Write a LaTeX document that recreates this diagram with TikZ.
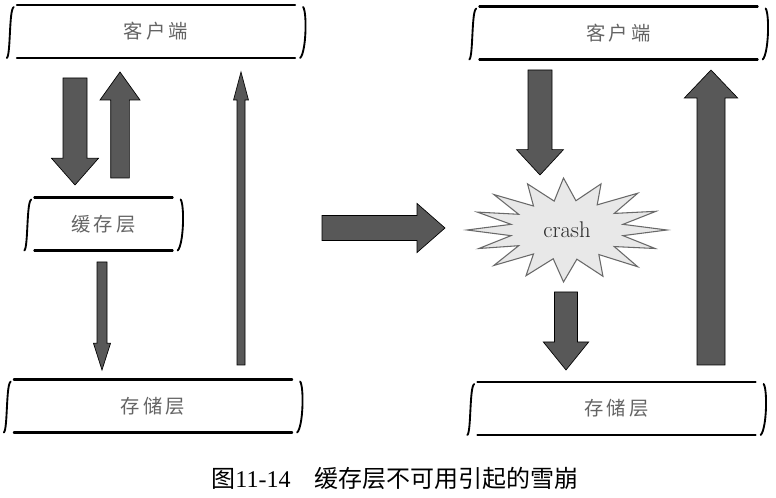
\documentclass[tikz,border=0pt]{standalone}
\usepackage{fontspec}
\newfontfamily\cjk{Noto Sans CJK SC}
\newfontfamily\capnum{Liberation Serif}
\usetikzlibrary{calc}
\definecolor{arrowgray}{RGB}{88,88,88}
\definecolor{labelgray}{RGB}{100,100,100}
\definecolor{burstfill}{RGB}{232,232,232}
\definecolor{burstline}{RGB}{105,105,105}
\tikzset{every picture/.style={line width=0.75pt}}
\tikzset{
  tierbox/.style={minimum width=208pt, minimum height=39pt, inner sep=0pt, text=labelgray, font=\cjk\fontsize{14.5}{14.5}\selectfont},
  edgeline/.style={line width=1.6pt, line cap=round},
  sidecurl/.style={line width=1.4pt, line cap=round},
  fatbody/.style={fill=arrowgray, draw=black, line width=0.5pt, line join=miter},
  burstbody/.style={fill=burstfill, draw=burstline, line width=0.8pt, line join=miter}
}
% block arrow: from, to, shaft half width, head half width, head length
\newcommand\fatarrow[5]{%
  \coordinate (hb) at ($(#2)!#5!(#1)$);
  \draw[fatbody] ($(#1)!#3!90:(#2)$) -- ($(hb)!#3!90:(#2)$) -- ($(hb)!#4!90:(#2)$) -- (#2)
    -- ($(hb)!#4!-90:(#2)$) -- ($(hb)!#3!-90:(#2)$) -- ($(#1)!#3!-90:(#2)$) -- cycle;}

\begin{document}
\begin{tikzpicture}[x=0.75pt,y=0.75pt,yscale=-1,xscale=1]
\useasboundingbox (0,0) rectangle (776,498);

%Shape: layer boxes
\node[tierbox] (cl) at (156,31.5) {客\,户\,端};
\node[tierbox, minimum width=103pt] (ca) at (103.5,224) {缓\,存\,层};
\node[tierbox] (st) at (153,406) {存\,储\,层};
\node[tierbox] (cr) at (618.5,33) {客\,户\,端};
\node[tierbox] (sr) at (616.5,408.5) {存\,储\,层};
\foreach \b in {cl,ca,st,cr,sr}{
  \draw[edgeline] (\b.north west) -- (\b.north east);
  \draw[edgeline] (\b.south west) -- (\b.south east);
  \draw[sidecurl] ([shift={(-3,2)}]\b.north west) .. controls ([shift={(-8,4)}]\b.north west) and ([shift={(-6,-3)}]\b.south west) .. ([shift={(-10,0)}]\b.south west);
  \draw[sidecurl] ([shift={(8,2)}]\b.north east) .. controls ([shift={(12,8)}]\b.north east) and ([shift={(11,-6)}]\b.south east) .. ([shift={(5,0)}]\b.south east);
}

%Straight Lines: left side arrows
\coordinate (q1) at (75,78);   \coordinate (q2) at (75,185);
\fatarrow{q1}{q2}{9pt}{17.6pt}{20pt}
\coordinate (r1) at (120,178); \coordinate (r2) at (120,72);
\fatarrow{r1}{r2}{7pt}{15pt}{21pt}
\coordinate (s1) at (102,262); \coordinate (s2) at (102,370);
\fatarrow{s1}{s2}{3.75pt}{6.4pt}{20pt}
\coordinate (t1) at (241,365); \coordinate (t2) at (241,72);
\fatarrow{t1}{t2}{3pt}{5.6pt}{21pt}

%Straight Lines: middle arrow
\coordinate (m1) at (322,228); \coordinate (m2) at (445,228);
\fatarrow{m1}{m2}{9.4pt}{18.4pt}{21pt}

%Straight Lines: right side arrows
\coordinate (u1) at (540,70);  \coordinate (u2) at (540,175);
\fatarrow{u1}{u2}{9pt}{17.6pt}{19pt}
\coordinate (v1) at (566,292); \coordinate (v2) at (566,370);
\fatarrow{v1}{v2}{8.6pt}{17pt}{21pt}
\coordinate (w1) at (711,365); \coordinate (w2) at (711,70);
\fatarrow{w1}{w2}{10.5pt}{20pt}{21pt}

%Shape: crash burst
\coordinate (bc) at (567,230);
\begin{scope}[shift={(bc)}, x=75pt, y=39pt]
  \draw[burstbody] (0:{1} and {1}) \foreach \a/\f in {11/.57, 22/.95, 34/.57, 45/1, 56/.57, 68/.96, 80/.57, 92/1, 104/.57, 115/.97, 126/.57, 137/1, 148/.57, 158/.95, 169/.57, 180/1, 191/.57, 201/.96, 212/.57, 223/1, 234/.57, 246/.97, 257/.57, 268/1, 279/.57, 291/.95, 302/.57, 315/1, 326/.57, 338/.96, 349/.57}{ -- (\a:{\f} and {\f}) } -- cycle;
\end{scope}
% Text Node
\node[text={rgb,255:red,40;green,40;blue,40}, font=\fontsize{17}{17}\selectfont] (crash) at (bc) {crash};

% Text Node
\node[font=\cjk\fontsize{18}{18}\selectfont] (cap) at (395,478) {图{\capnum 11-14}\quad 缓存层不可用引起的雪崩};

\end{tikzpicture}
\end{document}
